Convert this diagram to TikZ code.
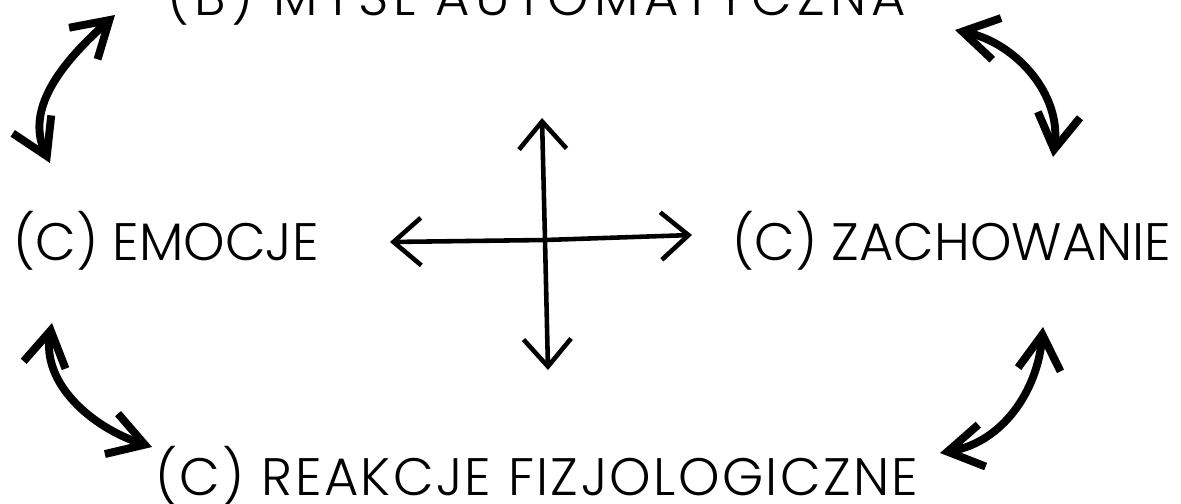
\documentclass[tikz,border=0pt]{standalone}
\usepackage{fontspec}
\setmainfont{Poppins Light}
\usetikzlibrary{arrows.meta}
\tikzset{
  etykieta/.style={inner sep=0pt,font=\fontsize{30}{36}\selectfont},
  strzalka/.style={line width=4.5pt,line cap=round,{Straight Barb[length=7mm,width=8.5mm]}-{Straight Barb[length=7mm,width=8.5mm]}},
  krzyz/.style={line width=2.6pt,-{Straight Barb[length=5.5mm,width=9.5mm]}}
}
\begin{document}
\begin{tikzpicture}
  \useasboundingbox (0,0) rectangle (23.62,10.06);
  %napisy
  \node[etykieta,anchor=base west] (mysl) at (3.34,9.76) {\addfontfeature{LetterSpace=10}(B) MYŚL AUTOMATYCZNA};
  \node[etykieta,anchor=base west] (emocje) at (0.26,4.86) {(C) EMOCJE};
  \node[etykieta,anchor=base west] (zach) at (14.64,4.86) {(C) ZACHOWANIE};
  \node[etykieta,anchor=base west] (reakcje) at (3.1,0.16) {\addfontfeature{LetterSpace=4.5}(C) REAKCJE FIZJOLOGICZNE};
  %konce strzalek
  \coordinate (a1) at (1.0,6.8);   \coordinate (a2) at (2.3,9.76);
  \coordinate (b1) at (19.1,9.46); \coordinate (b2) at (21.06,6.92);
  \coordinate (c1) at (1.04,3.6);  \coordinate (c2) at (3.04,1.12);
  \coordinate (d1) at (20.86,3.52); \coordinate (d2) at (18.8,1.0);
  \draw[strzalka] (a1) to[out=115,in=222] (a2);
  \draw[strzalka] (b1) to[out=-12,in=82] (b2);
  \draw[strzalka] (c1) to[out=-100,in=162] (c2);
  \draw[strzalka] (d1) to[out=-95,in=10] (d2);
  %krzyz
  \coordinate (srodek) at (10.9,5.26);
  \coordinate (gora) at (10.84,7.7);  \coordinate (dol) at (10.96,2.66);
  \coordinate (lewo) at (7.8,5.22);   \coordinate (prawo) at (13.84,5.36);
  \draw[krzyz] (srodek) -- (gora);
  \draw[krzyz] (srodek) -- (dol);
  \draw[krzyz] (srodek) -- (lewo);
  \draw[krzyz] (srodek) -- (prawo);
\end{tikzpicture}
\end{document}
